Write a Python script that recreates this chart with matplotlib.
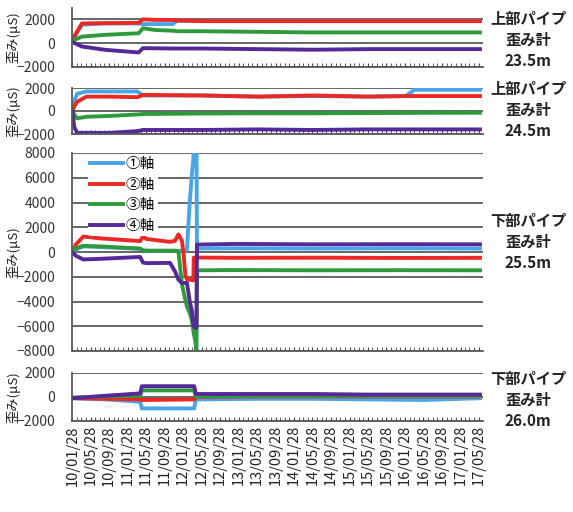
import numpy as np
import pandas as pd
import matplotlib
matplotlib.use("Agg")
import matplotlib.pyplot as plt
import matplotlib.dates as mdates

plt.rcParams['font.family'] = ['Noto Sans CJK JP', 'DejaVu Sans']

# series labels / colours
labels = ['①軸', '②軸', '③軸', '④軸']
colors = ['#48a6e6', '#ec2824', '#2f9a3c', '#55299a']

# right-hand captions
captions = ['上部パイプ\n歪み計\n23.5m', '上部パイプ\n歪み計\n24.5m',
            '下部パイプ\n歪み計\n25.5m', '下部パイプ\n歪み計\n26.0m']

# ---- panel 1 : upper pipe 23.5m ----
p1_dates = ['2010-01-28', '2010-04-01', '2010-09-01', '2011-04-10', '2011-05-08',
            '2011-08-01', '2011-11-20', '2011-12-20', '2012-06-01', '2013-06-01',
            '2014-06-01', '2015-06-01', '2016-06-01', '2017-06-05']
p1_blue = [200, 1550, 1650, 1650, 1600, 1600, 1600, 1900, 1850, 1850, 1850, 1850, 1850, 1850]
p1_red = [300, 1650, 1680, 1700, 2000, 1950, 1950, 1900, 1850, 1850, 1850, 1850, 1850, 1850]
p1_green = [200, 550, 700, 830, 1250, 1100, 1050, 1000, 1000, 950, 900, 900, 900, 900]
p1_purple = [100, -280, -560, -780, -420, -430, -450, -450, -450, -500, -550, -500, -500, -500]

# ---- panel 2 : upper pipe 24.5m ----
p2_dates = ['2010-01-28', '2010-02-10', '2010-03-01', '2010-05-01', '2010-10-01',
            '2011-04-01', '2011-05-10', '2012-06-01', '2013-06-01', '2014-06-01',
            '2015-06-01', '2016-02-01', '2016-04-01', '2017-06-05']
p2_blue = [0, 900, 1500, 1700, 1700, 1700, 1350, 1350, 1250, 1300, 1250, 1300, 1850, 1850]
p2_red = [0, 400, 800, 1250, 1250, 1200, 1400, 1350, 1250, 1350, 1250, 1300, 1300, 1300]
p2_green = [0, -300, -640, -500, -430, -300, -260, -220, -200, -200, -180, -170, -160, -150]
p2_purple = [0, -1400, -1900, -1900, -1900, -1750, -1650, -1650, -1600, -1650, -1600, -1600, -1600, -1600]

# ---- panel 3 : lower pipe 25.5m ----
p3_dates = ['2010-01-28', '2010-02-20', '2010-04-10', '2010-08-01', '2011-04-20',
            '2011-05-08', '2011-06-01', '2011-11-03', '2011-12-05', '2011-12-28',
            '2012-01-20', '2012-02-01', '2012-02-12', '2012-02-22', '2012-03-13',
            '2012-03-25', '2012-04-04', '2012-04-07', '2012-04-16', '2012-04-25',
            '2012-04-28', '2013-01-01', '2014-06-01', '2016-01-01', '2017-06-05']
p3_blue = [0, 200, 450, 400, 250, 150, 100, 100, 100, 100, 100, 100, 150, 200, 4270,
           6160, 7500, 9000, 9000, 9000, 280, 300, 280, 300, 280]
p3_red = [0, 600, 1250, 1100, 880, 1250, 1050, 820, 900, 1420, 900, -300, -1900, -2200, -2250,
          -2250, -2300, -450, -450, -450, -450, -470, -460, -480, -470]
p3_green = [0, 300, 500, 450, 280, 100, 100, 100, 100, 50, -2600, -3300, -3900, -4400, -5000,
            -5500, -6300, -6600, -7100, -8100, -1480, -1460, -1480, -1470, -1480]
p3_purple = [0, -300, -600, -550, -400, -850, -900, -880, -1560, -2240, -2500, -2500, -2500,
             -2500, -4100, -4700, -5900, -6000, -6100, -6100, 600, 650, 620, 630, 620]

# ---- panel 4 : lower pipe 26.0m ----
p4_dates = ['2010-01-28', '2010-09-01', '2011-04-20', '2011-05-01', '2012-04-10',
            '2012-04-20', '2013-06-01', '2014-06-01', '2015-06-01', '2016-06-01',
            '2017-06-05']
p4_blue = [-100, -200, -400, -950, -950, -200, -150, -150, -200, -250, -100]
p4_red = [-100, -150, -200, -250, -200, 0, 50, 50, 50, 50, 50]
p4_green = [-50, 50, 100, 550, 550, 50, 100, 100, 100, 100, 100]
p4_purple = [-100, 100, 300, 900, 900, 250, 250, 250, 200, 200, 200]

panels = [
    (p1_dates, [p1_blue, p1_red, p1_green, p1_purple], (-2000, 2950), [-2000, 0, 2000]),
    (p2_dates, [p2_blue, p2_red, p2_green, p2_purple], (-2000, 2000), [-2000, 0, 2000]),
    (p3_dates, [p3_blue, p3_red, p3_green, p3_purple], (-8000, 8000), list(range(-8000, 8001, 2000))),
    (p4_dates, [p4_blue, p4_red, p4_green, p4_purple], (-2000, 2000), [-2000, 0, 2000]),
]

W, H = 573, 512
fig = plt.figure(figsize=(W / 100, H / 100), dpi=100)
# axes boxes in pixels: (top, bottom)
boxes = [(8, 67), (88, 134), (153, 351), (373, 421)]
left_px, right_px = 72, 483
caption_y = [40, 110, 242, 400]

x0 = pd.Timestamp('2010-01-26')
x1 = pd.Timestamp('2017-06-25')

axes = []
for i, ((dates, series, ylim, yticks), (top, bot)) in enumerate(zip(panels, boxes)):
    ax = fig.add_axes([left_px / W, 1 - bot / H, (right_px - left_px) / W, (bot - top) / H])
    d = pd.to_datetime(dates)
    for s, c, lab in zip(series, colors, labels):
        ax.plot(d, s, color=c, lw=2.8, label=lab, solid_joinstyle='round')
    ax.set_ylim(*ylim)
    ax.set_yticks(yticks)
    ax.set_xlim(x0, x1)
    ax.grid(axis='y', color='#5a5a5a', lw=1.3)
    ax.set_axisbelow(True)
    for sp in ['top', 'right']:
        ax.spines[sp].set_visible(False)
    for sp in ['left', 'bottom']:
        ax.spines[sp].set_color('#5a5a5a')
        ax.spines[sp].set_linewidth(1.3)
    ax.xaxis.set_major_locator(mdates.MonthLocator(bymonth=(1, 5, 9), bymonthday=28))
    ax.xaxis.set_minor_locator(mdates.MonthLocator(bymonthday=28))
    ax.xaxis.set_major_formatter(mdates.DateFormatter('%y/%m/%d'))
    ax.tick_params(axis='x', which='both', direction='in', length=3, color='#404040')
    ax.tick_params(axis='y', length=0, labelsize=10, labelcolor='#333333', pad=12)
    ax.set_ylabel('歪み(μS)', fontsize=9.5, color='#222222', labelpad=0)
    ax.yaxis.set_label_coords(-0.125, 0.5)
    if i < 3:
        ax.tick_params(axis='x', labelbottom=False)
    else:
        ax.tick_params(axis='x', labelsize=10.5, labelrotation=90, labelcolor='#222222', pad=3)
    fig.text(528 / W, 1 - caption_y[i] / H, captions[i], ha='center', va='center',
             fontsize=11, fontweight='bold', color='#222222', linespacing=1.4)
    axes.append(ax)

leg = axes[2].legend(loc='upper left', bbox_to_anchor=(0.02, 1.03), fontsize=10.5,
                     frameon=True, framealpha=1, facecolor='white', edgecolor='none',
                     handlelength=2.2, labelspacing=0.45, borderpad=0.2, handletextpad=0.2)
leg.get_frame().set_linewidth(0)

fig.savefig('out.png', dpi=100, facecolor='white')
